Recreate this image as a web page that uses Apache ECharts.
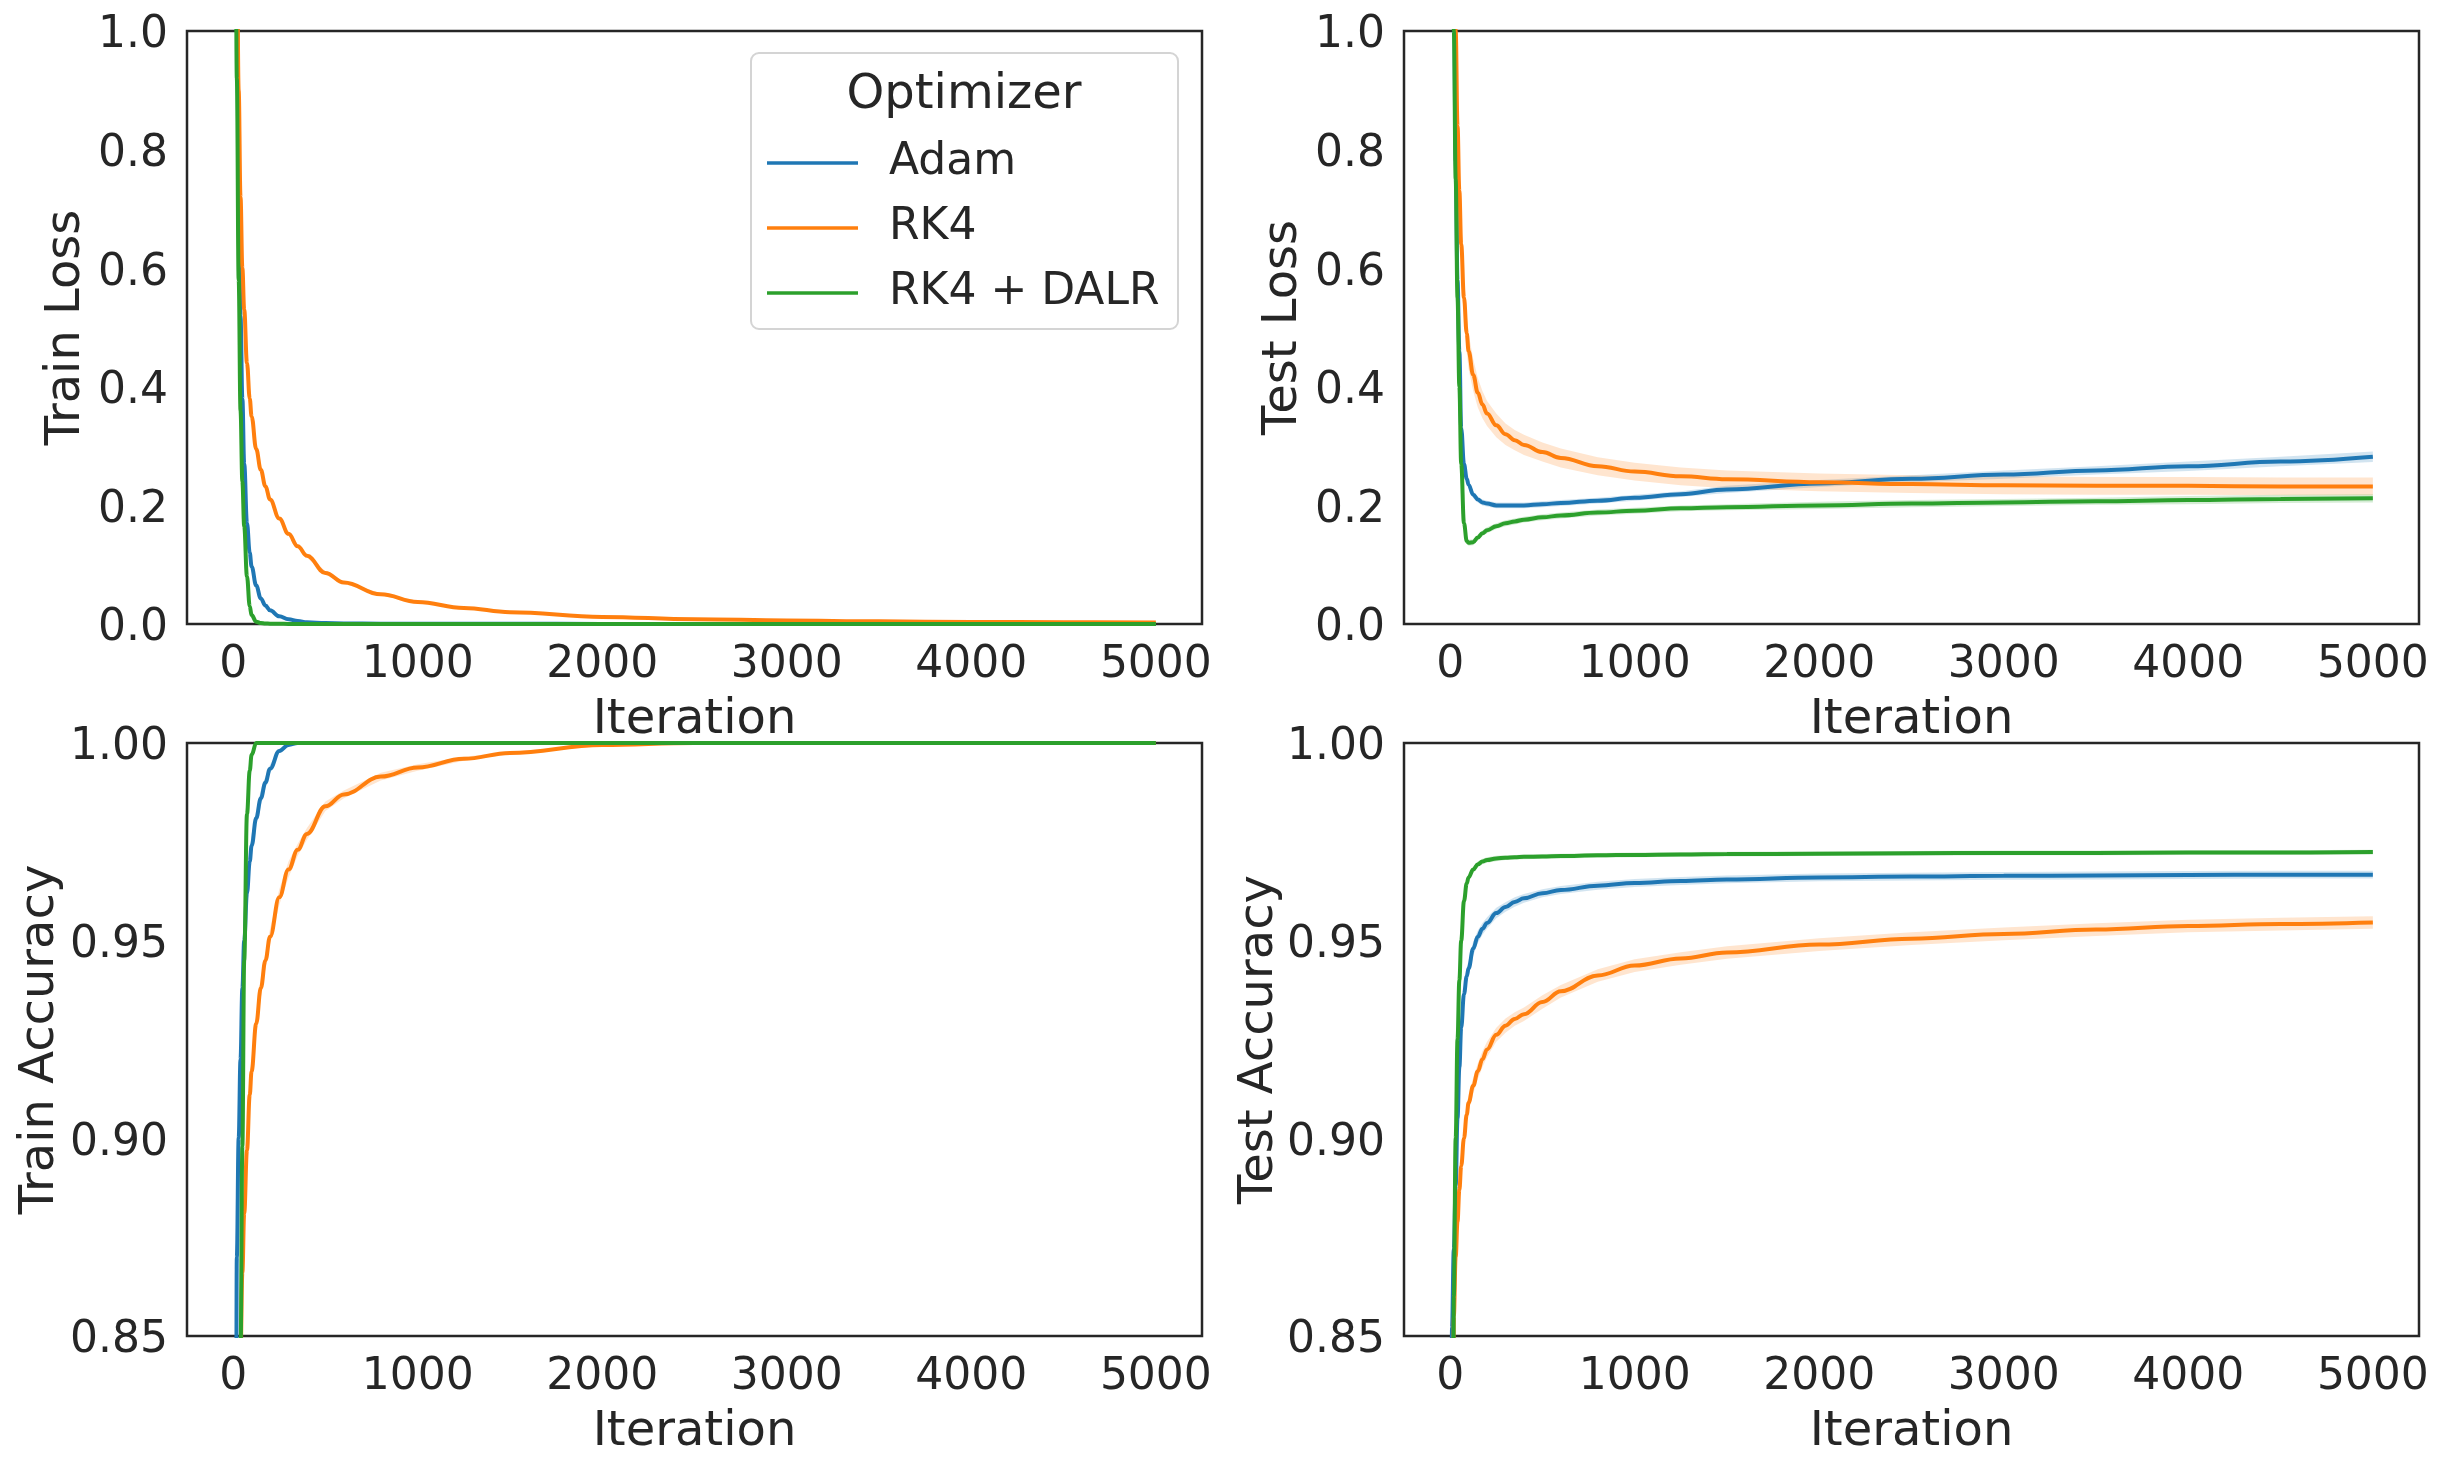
<!DOCTYPE html>
<html>
<head>
<meta charset="utf-8">
<script src="https://cdn.jsdelivr.net/npm/echarts@6/dist/echarts.min.js"></script>
<style>
html, body { margin: 0; padding: 0; background: #fff; }
#chart { width: 2442px; height: 1467px; }
</style>
</head>
<body>
<div id="chart"></div>
<script>
let iters = [0, 10, 20, 30, 40, 50, 60, 75, 90, 100, 125, 150, 175, 200, 250, 300, 350, 400, 500, 600, 800, 1000, 1250, 1500, 2000, 2500, 3000, 3500, 4000, 4500, 5000]

let optimizers = ['Adam', 'RK4', 'RK4 + DALR']
let xTicks = [0, 1000, 2000, 3000, 4000, 5000]
let lossTicks = [0, 0.2, 0.4, 0.6, 0.8, 1.0]
let accTicks = [0.85, 0.90, 0.95, 1.00]

// train loss (mean)
let adamTrainLoss = [2.3, 1.6, 1.1, 0.75, 0.52, 0.38, 0.27, 0.17, 0.12, 0.097, 0.065, 0.043, 0.031, 0.023, 0.013, 0.008, 0.005, 0.003, 0.0015, 0.001, 0.0006, 0.0004, 0.0003, 0.0003, 0.0002, 0.0002, 0.0001, 0.0001, 0.0001, 0.0001, 0.0001]
let rk4TrainLoss = [2.3, 1.6, 1.15, 0.9, 0.72, 0.6, 0.53, 0.44, 0.38, 0.35, 0.295, 0.26, 0.232, 0.21, 0.178, 0.152, 0.131, 0.115, 0.086, 0.07, 0.05, 0.037, 0.027, 0.02, 0.012, 0.008, 0.006, 0.0045, 0.0035, 0.003, 0.0025]
let dalrTrainLoss = [2.3, 1.5, 0.92, 0.58, 0.36, 0.24, 0.165, 0.08, 0.03, 0.015, 0.004, 0.0015, 0.0008, 0.0005, 0.0003, 0.0002, 0.0002, 0.0001, 0.0001, 0.0001, 0.0001, 0.0001, 0.0001, 0.0001, 0.0001, 0.0001, 0.0001, 0.0001, 0.0001, 0.0001, 0.0001]
// train loss (half width of the shaded band)
let adamTrainLossBand = [0, 0.04, 0.03, 0.025, 0.02, 0.02, 0.015, 0.012, 0.01, 0.009, 0.007, 0.005, 0.004, 0.003, 0.002, 0.001, 0.0005, 0.0003, 0, 0, 0, 0, 0, 0, 0, 0, 0, 0, 0, 0, 0]
let rk4TrainLossBand = [0, 0.02, 0.01, 0.008, 0.006, 0.005, 0.005, 0.004, 0.004, 0.004, 0.004, 0.004, 0.004, 0.004, 0.003, 0.003, 0.003, 0.003, 0.003, 0.002, 0.002, 0.002, 0.001, 0.001, 0.001, 0.0005, 0.0005, 0.0005, 0.0005, 0.0005, 0.0005]
let dalrTrainLossBand = [0, 0.03, 0.02, 0.015, 0.01, 0.008, 0.006, 0.004, 0.002, 0.001, 0.0005, 0, 0, 0, 0, 0, 0, 0, 0, 0, 0, 0, 0, 0, 0, 0, 0, 0, 0, 0, 0]

// test loss
let adamTestLoss = [2.3, 1.6, 1.1, 0.78, 0.58, 0.46, 0.33, 0.27, 0.245, 0.235, 0.218, 0.21, 0.205, 0.203, 0.2, 0.2, 0.2, 0.2, 0.202, 0.204, 0.208, 0.213, 0.219, 0.227, 0.237, 0.245, 0.252, 0.259, 0.266, 0.274, 0.282]
let rk4TestLoss = [2.3, 1.7, 1.25, 1.0, 0.84, 0.73, 0.64, 0.55, 0.49, 0.46, 0.42, 0.39, 0.37, 0.355, 0.335, 0.32, 0.31, 0.302, 0.29, 0.28, 0.266, 0.257, 0.249, 0.244, 0.239, 0.236, 0.234, 0.233, 0.233, 0.232, 0.232]
let dalrTestLoss = [2.3, 1.5, 1.0, 0.75, 0.55, 0.4, 0.27, 0.17, 0.14, 0.137, 0.138, 0.146, 0.153, 0.158, 0.165, 0.17, 0.173, 0.176, 0.18, 0.183, 0.188, 0.191, 0.195, 0.197, 0.2, 0.203, 0.205, 0.207, 0.209, 0.211, 0.212]
let adamTestLossBand = [0.05, 0.04, 0.03, 0.02, 0.015, 0.012, 0.01, 0.008, 0.007, 0.006, 0.006, 0.005, 0.005, 0.005, 0.005, 0.005, 0.005, 0.005, 0.005, 0.005, 0.005, 0.005, 0.005, 0.006, 0.006, 0.006, 0.007, 0.007, 0.008, 0.008, 0.009]
let rk4TestLossBand = [0.05, 0.05, 0.05, 0.05, 0.05, 0.045, 0.04, 0.035, 0.032, 0.03, 0.027, 0.025, 0.023, 0.021, 0.02, 0.018, 0.017, 0.017, 0.016, 0.016, 0.015, 0.015, 0.015, 0.015, 0.015, 0.015, 0.015, 0.015, 0.015, 0.015, 0.015]
let dalrTestLossBand = [0.05, 0.04, 0.03, 0.02, 0.015, 0.01, 0.008, 0.006, 0.005, 0.005, 0.005, 0.005, 0.005, 0.005, 0.005, 0.005, 0.005, 0.005, 0.005, 0.005, 0.005, 0.005, 0.005, 0.005, 0.006, 0.006, 0.006, 0.006, 0.007, 0.007, 0.007]

// train accuracy
let adamTrainAcc = [0.1, 0.6, 0.87, 0.9, 0.92, 0.938, 0.95, 0.962, 0.97, 0.974, 0.981, 0.986, 0.99, 0.9935, 0.998, 0.9995, 1, 1, 1, 1, 1, 1, 1, 1, 1, 1, 1, 1, 1, 1, 1]
let rk4TrainAcc = [0.1, 0.35, 0.6, 0.77, 0.845, 0.866, 0.881, 0.897, 0.911, 0.917, 0.929, 0.938, 0.945, 0.951, 0.961, 0.968, 0.973, 0.977, 0.984, 0.987, 0.9915, 0.9938, 0.996, 0.9975, 0.9995, 1, 1, 1, 1, 1, 1]
let dalrTrainAcc = [0.1, 0.3, 0.5, 0.7, 0.845, 0.898, 0.945, 0.982, 0.993, 0.997, 1, 1, 1, 1, 1, 1, 1, 1, 1, 1, 1, 1, 1, 1, 1, 1, 1, 1, 1, 1, 1]
let adamTrainAccBand = [0, 0.05, 0.02, 0.01, 0.008, 0.006, 0.005, 0.004, 0.003, 0.003, 0.002, 0.002, 0.0015, 0.001, 0.0005, 0.0002, 0, 0, 0, 0, 0, 0, 0, 0, 0, 0, 0, 0, 0, 0, 0]
let rk4TrainAccBand = [0, 0.03, 0.02, 0.01, 0.006, 0.005, 0.004, 0.003, 0.003, 0.003, 0.0025, 0.0025, 0.002, 0.002, 0.002, 0.002, 0.0015, 0.0015, 0.0012, 0.001, 0.001, 0.0008, 0.0005, 0.0003, 0.0002, 0, 0, 0, 0, 0, 0]
let dalrTrainAccBand = [0, 0.03, 0.02, 0.01, 0.006, 0.004, 0.002, 0.001, 0.0005, 0.0003, 0, 0, 0, 0, 0, 0, 0, 0, 0, 0, 0, 0, 0, 0, 0, 0, 0, 0, 0, 0, 0]

// test accuracy
let adamTestAcc = [0.1, 0.852, 0.872, 0.888, 0.905, 0.918, 0.928, 0.9365, 0.941, 0.943, 0.948, 0.951, 0.953, 0.9545, 0.957, 0.9585, 0.9598, 0.9607, 0.962, 0.9628, 0.9639, 0.9646, 0.9651, 0.9655, 0.966, 0.9662, 0.9664, 0.9665, 0.9666, 0.9667, 0.9667]
let rk4TestAcc = [0.1, 0.6, 0.855, 0.87, 0.879, 0.887, 0.893, 0.9, 0.906, 0.909, 0.9133, 0.917, 0.92, 0.9225, 0.9262, 0.9285, 0.9302, 0.9314, 0.9345, 0.9372, 0.9412, 0.9437, 0.9455, 0.947, 0.949, 0.9505, 0.9517, 0.9528, 0.9537, 0.9542, 0.9546]
let dalrTestAcc = [0.1, 0.6, 0.86, 0.9, 0.925, 0.94, 0.95, 0.96, 0.9645, 0.966, 0.968, 0.9693, 0.97, 0.9704, 0.9708, 0.971, 0.9711, 0.9712, 0.9713, 0.9714, 0.9716, 0.9717, 0.9718, 0.9719, 0.972, 0.9721, 0.9722, 0.9722, 0.9723, 0.9723, 0.9724]
let adamTestAccBand = [0, 0.01, 0.005, 0.004, 0.003, 0.003, 0.0025, 0.0022, 0.002, 0.002, 0.0018, 0.0016, 0.0015, 0.0014, 0.0013, 0.0012, 0.0012, 0.0011, 0.001, 0.001, 0.001, 0.001, 0.001, 0.001, 0.001, 0.001, 0.001, 0.001, 0.001, 0.001, 0.001]
let rk4TestAccBand = [0, 0.01, 0.004, 0.003, 0.003, 0.0028, 0.0026, 0.0024, 0.0022, 0.0021, 0.002, 0.002, 0.002, 0.0019, 0.0018, 0.0018, 0.0017, 0.0017, 0.0017, 0.0016, 0.0016, 0.0016, 0.0016, 0.0016, 0.0016, 0.0016, 0.0016, 0.0016, 0.0016, 0.0016, 0.0016]
let dalrTestAccBand = [0, 0.01, 0.004, 0.003, 0.002, 0.0015, 0.001, 0.0008, 0.0007, 0.0007, 0.0007, 0.0007, 0.0007, 0.0007, 0.0007, 0.0006, 0.0006, 0.0006, 0.0006, 0.0006, 0.0006, 0.0006, 0.0006, 0.0006, 0.0006, 0.0006, 0.0006, 0.0006, 0.0006, 0.0006, 0.0006]

let colors = ['#1f77b4', '#ff7f0e', '#2ca02c']
let bandColors = ['rgba(31,119,180,0.2)', 'rgba(255,127,14,0.2)', 'rgba(44,160,44,0.2)']
let textColor = '#262626'
let font = 'DejaVu Sans'

// one entry per subplot: means and band half widths in optimizer order
let panels = [
    { name: 'Train Loss', means: [adamTrainLoss, rk4TrainLoss, dalrTrainLoss], bands: [adamTrainLossBand, rk4TrainLossBand, dalrTrainLossBand], ticks: lossTicks, digits: 1, min: 0, max: 1, gap: 96 },
    { name: 'Test Loss', means: [adamTestLoss, rk4TestLoss, dalrTestLoss], bands: [adamTestLossBand, rk4TestLossBand, dalrTestLossBand], ticks: lossTicks, digits: 1, min: 0, max: 1, gap: 96 },
    { name: 'Train Accuracy', means: [adamTrainAcc, rk4TrainAcc, dalrTrainAcc], bands: [adamTrainAccBand, rk4TrainAccBand, dalrTrainAccBand], ticks: accTicks, digits: 2, min: 0.85, max: 1, gap: 122 },
    { name: 'Test Accuracy', means: [adamTestAcc, rk4TestAcc, dalrTestAcc], bands: [adamTestAccBand, rk4TestAccBand, dalrTestAccBand], ticks: accTicks, digits: 2, min: 0.85, max: 1, gap: 120 }
]

let gridPos = [
    { left: 187, top: 31 },
    { left: 1404, top: 31 },
    { left: 187, top: 743 },
    { left: 1404, top: 743 }
]

// shaded band as one polygon: upper edge left to right, lower edge back
function bandRenderer(mean, band, color) {
    return function (params, api) {
        if (params.dataIndex !== 0) return null
        let upper = []
        let lower = []
        for (let i = 0; i < iters.length; i++) {
            upper.push(api.coord([iters[i], mean[i] + band[i]]))
            lower.unshift(api.coord([iters[i], mean[i] - band[i]]))
        }
        return {
            type: 'polygon',
            shape: { points: upper.concat(lower) },
            style: { fill: color }
        }
    }
}

let grids = []
let xAxes = []
let yAxes = []
let series = []

for (let p = 0; p < panels.length; p++) {
    let panel = panels[p]
    grids.push({
        left: gridPos[p].left, top: gridPos[p].top, width: 1015, height: 593,
        show: true, borderColor: textColor, borderWidth: 2.5, backgroundColor: 'transparent'
    })
    xAxes.push({
        gridIndex: p, type: 'value', min: -250, max: 5250,
        axisLine: { show: false }, axisTick: { show: false }, splitLine: { show: false },
        axisLabel: {
            customValues: xTicks, fontSize: 44, color: textColor, fontFamily: font, margin: 20,
            formatter: function (v) { return String(v) }
        },
        name: 'Iteration', nameLocation: 'middle', nameGap: 73,
        nameTextStyle: { fontSize: 48, color: textColor, fontFamily: font }
    })
    yAxes.push({
        gridIndex: p, type: 'value', min: panel.min, max: panel.max,
        axisLine: { show: false }, axisTick: { show: false }, splitLine: { show: false },
        axisLabel: {
            customValues: panel.ticks, margin: 19,
            formatter: function (v) { return '{t|' + v.toFixed(panel.digits) + '}' },
            // top padding pushes the digits down to sit centred on the tick
            rich: { t: { fontSize: 44, color: textColor, fontFamily: font, padding: [10, 0, 0, 0] } }
        },
        name: panel.name, nameLocation: 'middle', nameGap: panel.gap,
        nameTextStyle: { fontSize: 48, color: textColor, fontFamily: font }
    })
    // shaded bands first, so every line sits above them
    for (let k = 0; k < 3; k++) {
        series.push({
            type: 'custom', xAxisIndex: p, yAxisIndex: p, silent: true, clip: true, z: 1,
            data: [[iters[0], panel.means[k][0]]],
            encode: { x: 0, y: 1 },
            renderItem: bandRenderer(panel.means[k], panel.bands[k], bandColors[k])
        })
    }
    for (let k = 0; k < 3; k++) {
        series.push({
            name: optimizers[k], type: 'line', xAxisIndex: p, yAxisIndex: p,
            data: iters.map((it, i) => [it, panel.means[k][i]]),
            showSymbol: false, smooth: 0.4, smoothMonotone: 'x', clip: true,
            itemStyle: { color: colors[k] },
            lineStyle: { color: colors[k], width: 4 }, z: 2 + k
        })
    }
}

let chart = echarts.init(document.getElementById('chart'))
chart.setOption({
    animation: false,
    backgroundColor: '#fff',
    textStyle: { fontFamily: font },
    grid: grids,
    xAxis: xAxes,
    yAxis: yAxes,
    series: series,
    legend: {
        data: optimizers, orient: 'vertical', left: 767, top: 138, padding: 0,
        itemGap: 15, itemWidth: 91, itemHeight: 3.5, icon: 'rect',
        textStyle: { fontSize: 44, color: textColor, fontFamily: font, lineHeight: 50, padding: [0, 0, 0, 26] },
        z: 10
    },
    graphic: [
        {
            type: 'rect', z: 5,
            shape: { x: 751, y: 53, width: 427, height: 276, r: 8 },
            style: { fill: '#fff', stroke: '#d4d4d4', lineWidth: 2 }
        },
        {
            type: 'text', z: 6, x: 964, y: 96,
            style: { text: 'Optimizer', fontSize: 48, fontFamily: font, fill: textColor, textAlign: 'center', textVerticalAlign: 'middle' }
        }
    ]
})
</script>
</body>
</html>
